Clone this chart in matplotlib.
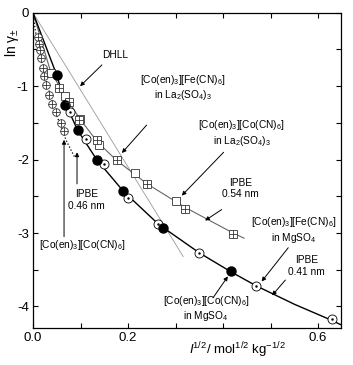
import matplotlib
matplotlib.use("Agg")
import matplotlib.pyplot as plt

plt.rcParams['font.family'] = ['Liberation Sans', 'DejaVu Sans']
plt.rcParams['mathtext.fontset'] = 'custom'
plt.rcParams['mathtext.rm'] = 'Liberation Sans'
plt.rcParams['mathtext.it'] = 'Liberation Sans:italic'

# crossed circles, [Co(en)3][Co(CN)6] in water
cc_x = [0.010, 0.012, 0.014, 0.016, 0.020, 0.023, 0.028, 0.034, 0.039, 0.049, 0.059, 0.065]
cc_y = [-0.33, -0.42, -0.51, -0.62, -0.75, -0.86, -0.98, -1.12, -1.24, -1.35, -1.50, -1.61]

# filled circles, [Co(en)3][Co(CN)6] in MgSO4
fc_x = [0.050, 0.067, 0.094, 0.134, 0.190, 0.274, 0.417]
fc_y = [-0.85, -1.25, -1.60, -2.00, -2.43, -2.93, -3.52]

# open circles, [Co(en)3][Fe(CN)6] in MgSO4
oc_x = [0.078, 0.112, 0.150, 0.199, 0.264, 0.350, 0.470, 0.629]
oc_y = [-1.35, -1.72, -2.06, -2.52, -2.88, -3.27, -3.72, -4.17]

# open squares
os_x = [0.037, 0.067, 0.099, 0.138, 0.214, 0.301]
os_y = [-0.82, -1.14, -1.44, -1.80, -2.18, -2.57]

# crossed squares
cs_x = [0.055, 0.076, 0.097, 0.134, 0.176, 0.239, 0.320, 0.421]
cs_y = [-1.03, -1.22, -1.46, -1.73, -2.01, -2.33, -2.67, -3.01]

# IPBE curves
ipbe41_x = [0, 0.050, 0.067, 0.094, 0.134, 0.190, 0.264, 0.350, 0.417, 0.470, 0.550, 0.629, 0.648]
ipbe41_y = [0, -0.85, -1.22, -1.60, -2.00, -2.43, -2.88, -3.27, -3.53, -3.72, -3.97, -4.19, -4.25]
ipbe54_x = [0, 0.037, 0.076, 0.099, 0.137, 0.176, 0.214, 0.240, 0.300, 0.320, 0.421, 0.444]
ipbe54_y = [0, -0.80, -1.22, -1.45, -1.77, -2.01, -2.20, -2.33, -2.57, -2.65, -3.00, -3.07]
ipbe46_x = [0, 0.005, 0.010, 0.020, 0.030, 0.040, 0.050, 0.060, 0.070, 0.080, 0.088]
ipbe46_y = [0, -0.25, -0.40, -0.72, -0.98, -1.20, -1.40, -1.57, -1.74, -1.87, -1.97]
dhll_x = [0, 0.316]
dhll_y = [0, -3.32]

xticks = [0, 0.1, 0.2, 0.3, 0.4, 0.5, 0.6]
xlabels = ['0.0', '', '0.2', '', '', '', '0.6']
yticks = [0, -0.5, -1, -1.5, -2, -2.5, -3, -3.5, -4]
ylabels = ['0', '', '-1', '', '-2', '', '-3', '', '-4']

fig = plt.figure(figsize=(3.53, 3.65), dpi=100)
ax = fig.add_axes([0.0935, 0.102, 0.8725, 0.863])

ax.plot(dhll_x, dhll_y, color='#999999', lw=0.6)
ax.plot(ipbe54_x, ipbe54_y, color='#666666', lw=0.8)
ax.plot(ipbe41_x, ipbe41_y, color='black', lw=1.0)
ax.plot(ipbe46_x, ipbe46_y, color='black', lw=0.9, ls=':')

ax.plot(cc_x, cc_y, 'o', ms=5.5, mfc='white', mec='#333333', mew=0.6, zorder=3)
ax.plot(cc_x, cc_y, '+', ms=5.5, color='#333333', mew=0.6, zorder=4)
ax.plot(os_x, os_y, 's', ms=6, mfc='white', mec='#333333', mew=0.6, zorder=3)
ax.plot(cs_x, cs_y, 's', ms=6, mfc='white', mec='#333333', mew=0.6, zorder=3)
ax.plot(cs_x, cs_y, '+', ms=6, color='#333333', mew=0.6, zorder=4)
ax.plot(oc_x, oc_y, 'o', ms=6.5, mfc='white', mec='black', mew=0.6, zorder=3)
ax.plot(oc_x, oc_y, '.', ms=1.5, color='black', zorder=4)
ax.plot(fc_x, fc_y, 'o', ms=6.5, color='black', zorder=3)

arrow = dict(arrowstyle='-|>', lw=0.7, color='black', mutation_scale=6, shrinkA=0, shrinkB=0)
fs = 7.3

def note(txt, xy, xytext, textpos=None):
    ax.annotate('', xy=xy, xytext=xytext, arrowprops=arrow)
    if textpos:
        ax.text(textpos[0], textpos[1], txt, fontsize=fs, ha='center', va='center',
                linespacing=1.15)

note('DHLL', (0.099, -1.00), (0.145, -0.71), (0.173, -0.58))
note('[Co(en)$_3$][Fe(CN)$_6$]\nin La$_2$(SO$_4$)$_3$', (0.187, -1.91), (0.239, -1.53), (0.315, -1.02))
note('[Co(en)$_3$][Co(CN)$_6$]\nin La$_2$(SO$_4$)$_3$', (0.313, -2.49), (0.401, -1.90), (0.439, -1.64))
note('IPBE\n0.54 nm', (0.362, -2.83), (0.397, -2.68), (0.436, -2.39))
note('[Co(en)$_3$][Fe(CN)$_6$]\nin MgSO$_4$', (0.481, -3.66), (0.537, -3.20), (0.548, -2.96))
note('IPBE\n0.41 nm', (0.503, -3.85), (0.531, -3.64), (0.575, -3.45))
note('[Co(en)$_3$][Co(CN)$_6$]\nin MgSO$_4$', (0.410, -3.59), (0.379, -3.88), (0.364, -4.03))
note('IPBE\n0.46 nm', (0.0926, -1.90), (0.0926, -2.33), (0.112, -2.55))
note('[Co(en)$_3$][Co(CN)$_6$]', (0.0653, -1.73), (0.0653, -3.05), (0.104, -3.16))

ax.set_xlim(0, 0.648)
ax.set_ylim(-4.29, 0)
ax.set_xticks(xticks)
ax.set_xticklabels(xlabels)
ax.set_yticks(yticks)
ax.set_yticklabels(ylabels)
ax.tick_params(direction='in', length=3.5, width=0.8, labelsize=9.5,
               top=True, right=True, pad=3)
for s in ax.spines.values():
    s.set_linewidth(0.9)

fig.text(237 / 353, 1 - 350 / 365, '$I$$^{1/2}$/ mol$^{1/2}$ kg$^{-1/2}$',
         fontsize=9.5, ha='center', va='center')
fig.text(12 / 353, 1 - 43 / 365, 'ln γ$_{\\pm}$', fontsize=10, rotation=90,
         ha='center', va='center')

fig.savefig('out.png', dpi=100)
